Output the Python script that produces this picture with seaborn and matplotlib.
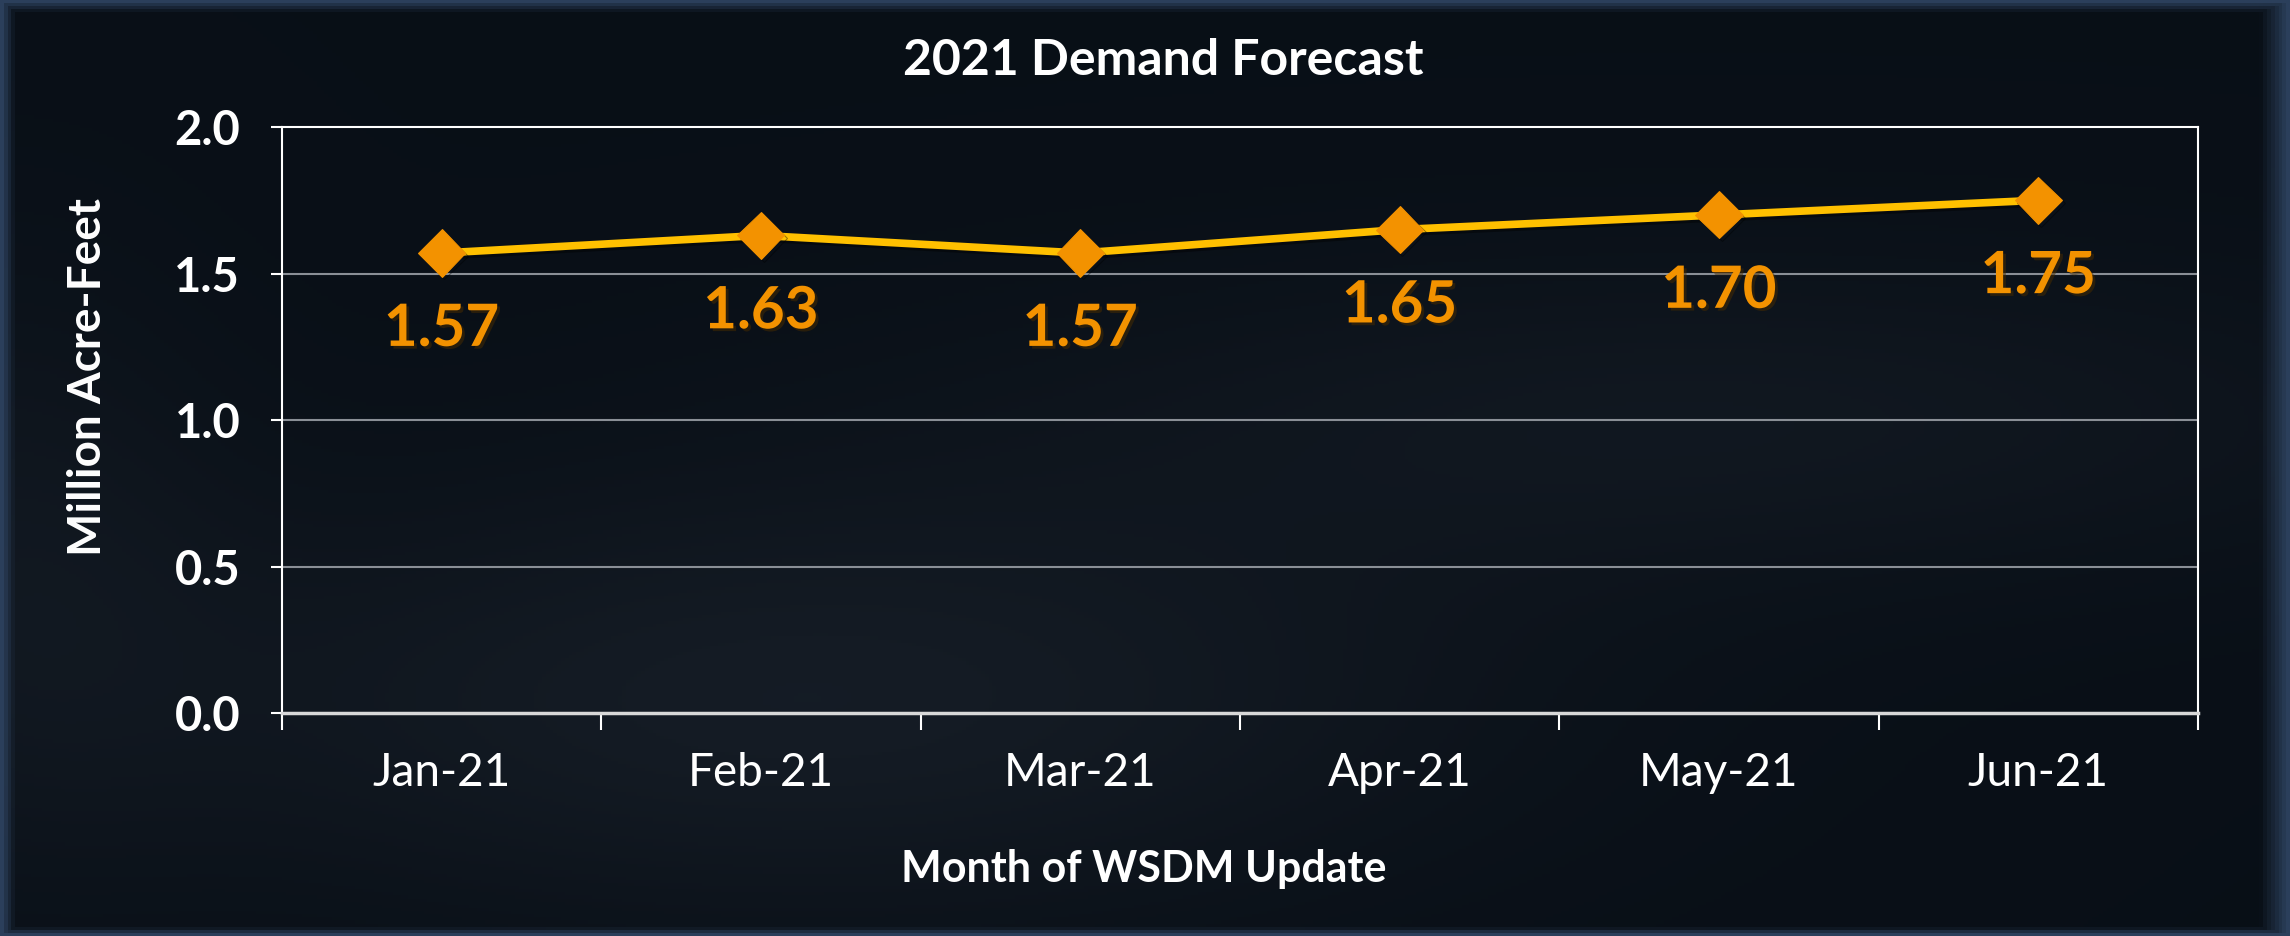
import matplotlib
matplotlib.use("Agg")
import matplotlib.pyplot as plt
import matplotlib.patheffects as pe
import numpy as np
import pandas as pd
import seaborn as sns

# chart data
months = ["Jan-21", "Feb-21", "Mar-21", "Apr-21", "May-21", "Jun-21"]
demand = [1.57, 1.63, 1.57, 1.65, 1.70, 1.75]
value_labels = ["1.57", "1.63", "1.57", "1.65", "1.70", "1.75"]
y_ticks = [0.0, 0.5, 1.0, 1.5, 2.0]

df = pd.DataFrame({"Month": months, "Demand": demand})

sns.set_style("dark")
plt.rcParams["font.family"] = ["Lato", "DejaVu Sans"]

LINE = "#FFC000"
MARK = "#F39200"
WHITE = "#FFFFFF"

fig = plt.figure(figsize=(22.9, 9.36), dpi=100)
fig.patch.set_facecolor("#0c131c")

# dark slide background with a soft gradient
bg = fig.add_axes([0, 0, 1, 1], zorder=-10)
yy, xx = np.mgrid[0:1:300j, 0:1:600j]
glow = 0.55 * np.exp(-((xx - 0.35) ** 2 / 0.08 + (yy - 0.75) ** 2 / 0.05))
glow += 0.35 * np.exp(-((xx - 0.75) ** 2 / 0.1 + (yy - 0.45) ** 2 / 0.03))
glow += 0.3 * np.exp(-((xx - 0.0) ** 2 / 0.01 + (yy - 0.6) ** 2 / 0.1))
edge = np.clip(1 - np.minimum.reduce([xx / 0.006, yy / 0.012, (1 - yy) / 0.008, (1 - xx) / 0.012]), 0, 1)
base = np.array([0.035, 0.06, 0.09])
light = np.array([0.12, 0.15, 0.19])
frame = np.array([0.17, 0.25, 0.36])
img = base + glow[..., None] * (light - base)
img = img * (1 - edge[..., None]) + frame * edge[..., None]
bg.imshow(img, extent=[0, 1, 0, 1], aspect="auto", origin="upper")
bg.axis("off")

ax = fig.add_axes([0.1231, 0.2382, 0.8367, 0.6261])
ax.set_facecolor("none")

sns.lineplot(data=df, x="Month", y="Demand", sort=False, ax=ax,
             color=LINE, linewidth=5.5, marker="D", markersize=24,
             markerfacecolor=MARK, markeredgecolor=MARK, zorder=5,
             path_effects=[pe.SimpleLineShadow(offset=(2, -2), alpha=0.4), pe.Normal()])

for i, (v, lab) in enumerate(zip(demand, value_labels)):
    ax.annotate(lab, (i, v), xytext=(0, -55), textcoords="offset points",
                ha="center", va="center", color=MARK, fontsize=42, fontweight="bold",
                path_effects=[pe.withSimplePatchShadow(offset=(2, -2), alpha=0.5)])

ax.set_xlim(-0.5, len(months) - 0.5)
ax.set_ylim(0, 2.0)
ax.set_yticks(y_ticks)
ax.set_yticklabels([f"{t:.1f}" for t in y_ticks])
ax.set_xticks(range(len(months)))
ax.set_xticklabels(months)
ax.set_xticks(np.arange(-0.5, len(months)), minor=True)

ax.grid(False)
for t in y_ticks[1:-1]:
    ax.axhline(t, color="#8a8f96", linewidth=1.5, zorder=1)

for s in ax.spines.values():
    s.set_visible(True)
    s.set_color(WHITE)
    s.set_linewidth(1.5)
ax.spines["bottom"].set_color("#d8d8d8")
ax.spines["bottom"].set_linewidth(2.5)

ax.tick_params(axis="y", which="major", colors=WHITE, labelcolor=WHITE,
               length=8, width=1.5, direction="out", pad=22, left=True)
ax.tick_params(axis="x", which="major", length=0, pad=28)
ax.tick_params(axis="x", which="minor", colors=WHITE, length=12, width=1.5,
               direction="out", bottom=True)
for lab in ax.get_yticklabels():
    lab.set_fontsize(34)
    lab.set_fontweight("bold")
    lab.set_color(WHITE)
for lab in ax.get_xticklabels():
    lab.set_fontsize(33)
    lab.set_color(WHITE)

ax.set_xlabel("")
ax.set_ylabel("")

fig.text(0.508, 0.935, "2021 Demand Forecast", ha="center", va="center",
         color=WHITE, fontsize=36, fontweight="bold")
fig.text(0.4996, 0.0716, "Month of WSDM Update", ha="center", va="center",
         color=WHITE, fontsize=31, fontweight="bold")
fig.text(0.0384, 0.597, "Million Acre-Feet", ha="center", va="center",
         rotation=90, color=WHITE, fontsize=33, fontweight="bold")

fig.savefig("out.png", dpi=100, facecolor=fig.get_facecolor())
